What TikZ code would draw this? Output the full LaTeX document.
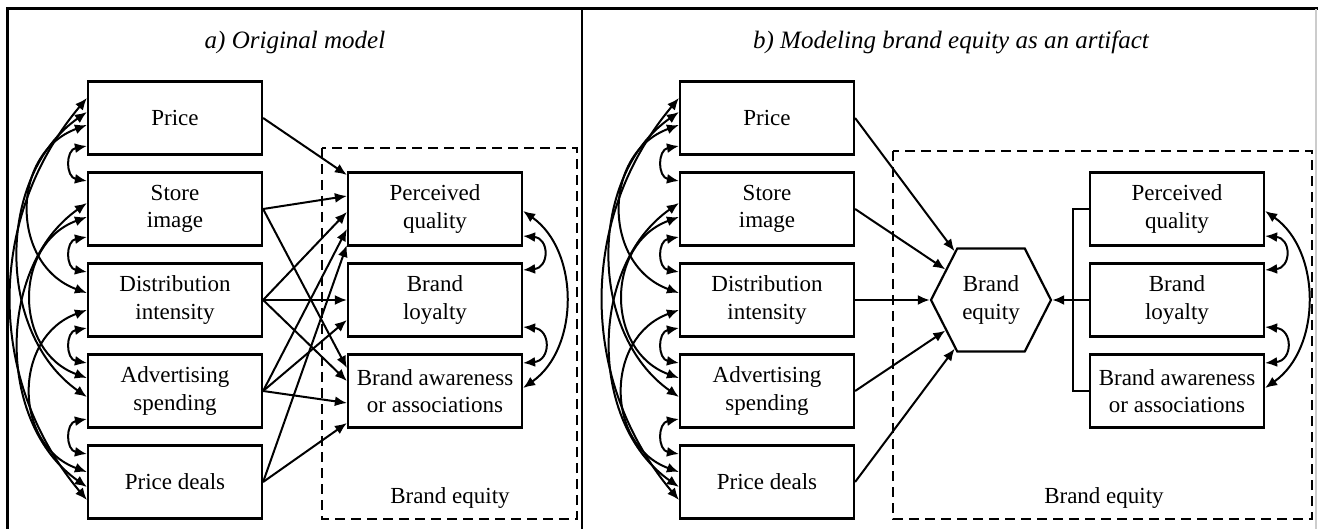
\documentclass[tikz,border=0pt]{standalone}
\usepackage{fontspec}
\setmainfont{Liberation Serif}
\usetikzlibrary{arrows.meta}
\usetikzlibrary{shapes.symbols}
\tikzset{%
    fbox/.style={draw,line width=1.1pt,minimum width=87pt,minimum height=36.5pt,
        inner sep=0pt,align=center,font=\fontsize{11.5}{13.7}\selectfont},
    hexa/.style={signal,signal to=west and east,signal pointer angle=126,draw,
        line width=1.1pt,minimum width=60pt,minimum height=51.5pt,inner sep=0pt,
        align=center,font=\fontsize{11.5}{13.7}\selectfont},
    dep/.style={->,line width=1pt},
    cor/.style={<->,line width=1pt},
    ttl/.style={font=\fontsize{12.5}{14}\selectfont\itshape},
    grp/.style={font=\fontsize{11.5}{13.7}\selectfont}
}

\begin{document}
\begin{tikzpicture}[x=0.5pt,y=-0.5pt,>={Latex[length=6pt,width=5pt]}]
    \useasboundingbox (0,0) rectangle (1318,529);
    % frame
    \draw[line width=1.5pt] (7,529) -- (7,9) -- (1318,9);
    \draw[line width=1.2pt] (582,9) -- (582,529);
    \draw[gray!40,line width=0.6pt] (1316,9) -- (1316,529);

    \node[ttl] (ta) at (295,42) {a) Original model};
    \node[ttl] (tb) at (951,42) {b) Modeling brand equity as an artifact};

    % dashed groups
    \draw[line width=1.1pt,dash pattern=on 5pt off 3pt] (322,148) rectangle (577,519);
    \draw[line width=1.1pt,dash pattern=on 5pt off 3pt] (893,151) rectangle (1312,519);
    \node[grp] (ga) at (450,498) {Brand equity};
    \node[grp] (gb) at (1104,498) {Brand equity};

    % antecedents, both panels
    \foreach \p/\x in {a/175,b/767}{
        \node[fbox] (\p-price) at (\x,118) {Price};
        \node[fbox] (\p-store) at (\x,209) {Store\\image};
        \node[fbox] (\p-dist) at (\x,300) {Distribution\\intensity};
        \node[fbox] (\p-adv) at (\x,391) {Advertising\\spending};
        \node[fbox] (\p-deals) at (\x,482) {Price deals};

        \draw[cor] ([yshift=-14pt]\p-price.west) to[bend right=80,looseness=1.6] ([yshift=14pt]\p-store.west);
        \draw[cor] ([yshift=-14pt]\p-store.west) to[bend right=80,looseness=1.6] ([yshift=14pt]\p-dist.west);
        \draw[cor] ([yshift=-14pt]\p-dist.west) to[bend right=80,looseness=1.6] ([yshift=14pt]\p-adv.west);
        \draw[cor] ([yshift=-14pt]\p-adv.west) to[bend right=80,looseness=1.6] ([yshift=14pt]\p-deals.west);
        \draw[cor] ([yshift=-3.5pt]\p-price.west) to[bend right=70,looseness=1.25] ([yshift=3.5pt]\p-dist.west);
        \draw[cor] ([yshift=-4pt]\p-store.west) to[bend right=70,looseness=1.25] ([yshift=6.5pt]\p-adv.west);
        \draw[cor] ([yshift=-5pt]\p-dist.west) to[bend right=70,looseness=1.25] ([yshift=5pt]\p-deals.west);
        \draw[cor] ([yshift=3pt]\p-price.west) to[bend right=55] ([yshift=-3pt]\p-adv.west);
        \draw[cor] ([yshift=3pt]\p-store.west) to[bend right=55] ([yshift=-2.5pt]\p-deals.west);
        \draw[cor] ([yshift=10pt]\p-price.west) to[bend right=40] ([yshift=-9pt]\p-deals.west);
    }

    % dimensions, both panels
    \foreach \p/\x in {a/435,b/1177}{
        \node[fbox] (\p-pq) at (\x,209) {Perceived\\quality};
        \node[fbox] (\p-bl) at (\x,300) {Brand\\loyalty};
        \node[fbox] (\p-ba) at (\x,391) {Brand awareness\\or associations};

        \draw[cor] ([yshift=-13.5pt]\p-pq.east) to[bend left=85,looseness=2] ([yshift=15pt]\p-bl.east);
        \draw[cor] ([yshift=-13.5pt]\p-bl.east) to[bend left=85,looseness=2] ([yshift=14pt]\p-ba.east);
        \draw[cor] ([yshift=-1pt]\p-pq.east) to[bend left=55] ([yshift=1.5pt]\p-ba.east);
    }

    % a) original model
    \draw[dep] (a-price.east) -- ([yshift=17pt]a-pq.west);
    \draw[dep] (a-store.east) -- ([yshift=6.5pt]a-pq.west);
    \draw[dep] (a-dist.east) -- ([yshift=-1.5pt]a-pq.west);
    \draw[dep] (a-adv.east) -- ([yshift=-10pt]a-pq.west);
    \draw[dep] (a-deals.east) -- ([yshift=-18pt]a-pq.west);
    \draw[dep] (a-dist.east) -- (a-bl.west);
    \draw[dep] (a-adv.east) -- ([yshift=-10pt]a-bl.west);
    \draw[dep] (a-store.east) -- ([yshift=11.5pt]a-ba.west);
    \draw[dep] (a-dist.east) -- ([yshift=5pt]a-ba.west);
    \draw[dep] (a-adv.east) -- ([yshift=-6pt]a-ba.west);
    \draw[dep] (a-deals.east) -- ([yshift=-16pt]a-ba.west);

    % b) artifact
    \node[hexa] (hex) at (991,300) {Brand\\equity};
    \coordinate (brk) at (1073,300);
    \draw[line width=1pt] (b-pq.west) -| (brk) |- (b-ba.west);
    \draw[dep] (b-bl.west) -- (hex.east);
    \draw[dep] (b-price.east) -- (hex);
    \draw[dep] (b-store.east) -- (hex);
    \draw[dep] (b-dist.east) -- (hex.west);
    \draw[dep] (b-adv.east) -- (hex);
    \draw[dep] (b-deals.east) -- (hex);
\end{tikzpicture}
\end{document}
